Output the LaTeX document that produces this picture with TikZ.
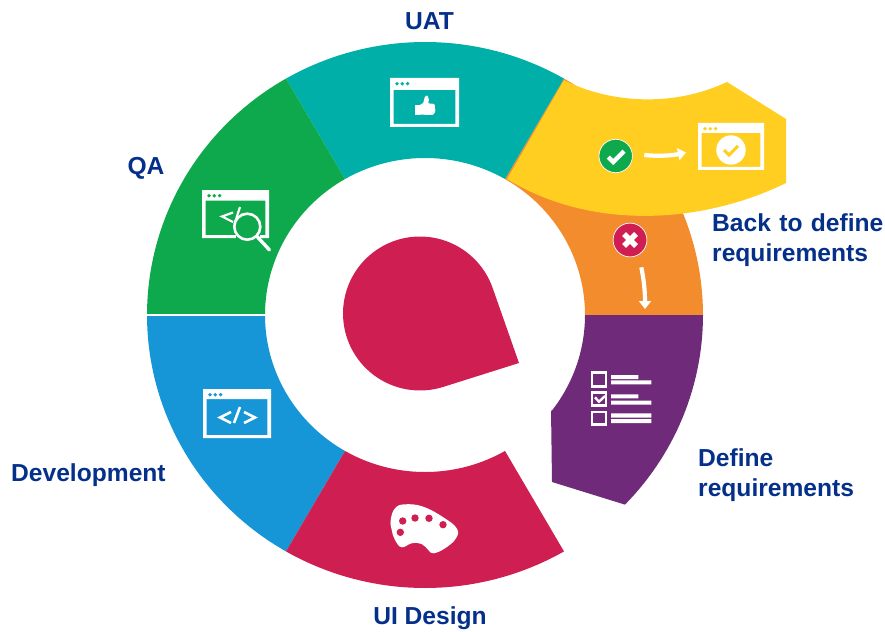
\documentclass[tikz,border=0pt]{standalone}
\usepackage{fontspec}
\setmainfont{Liberation Sans}
\usetikzlibrary{arrows.meta}
\definecolor{cTeal}{RGB}{0,176,168}
\definecolor{cGreen}{RGB}{13,169,76}
\definecolor{cBlue}{RGB}{22,150,214}
\definecolor{cCrimson}{RGB}{207,31,82}
\definecolor{cPurple}{RGB}{111,42,122}
\definecolor{cOrange}{RGB}{242,140,45}
\definecolor{cYellow}{RGB}{255,206,33}
\definecolor{cLabel}{RGB}{5,48,138}
\tikzset{
  label text/.style={text=cLabel,font=\bfseries\fontsize{24.6}{30}\selectfont,inner sep=0pt,align=left},
  code stroke/.style={draw=white,line width=2.6pt,line cap=butt,line join=miter},
  flow arrow/.style={draw=white,line width=4.2pt,-{Triangle[width=12pt,length=8pt]}}
}
% ring sector: colour, start angle, end angle
\newcommand{\ringsector}[3]{%
  \fill[#1] plot[samples=41,domain=#2:#3] ({425+278*cos(\x)},{315+273*sin(\x)})
    -- plot[samples=41,domain=#3:#2] ({425+160*cos(\x)},{315+157*sin(\x)}) -- cycle;}
% browser window: colour, x0,y0,x1,y1 of the outer frame; title bar height
\newcommand{\browserwin}[6]{%
  \fill[white,even odd rule] (#2,#3) rectangle (#4,#5)
     ({#2+3.7},{#3+#6}) rectangle ({#4-3.7},{#5-3});
  \fill[#1] ({#2+7},{#3+5.7}) circle (1.9) ({#2+12.2},{#3+5.7}) circle (1.9) ({#2+17.6},{#3+5.7}) circle (1.9);}
\begin{document}
\begin{tikzpicture}[x=1pt,y=-1pt]
\useasboundingbox (0,0) rectangle (885,631);
% ring
\ringsector{cOrange}{300}{360}
\ringsector{cTeal}{240}{300}
\ringsector{cGreen}{180}{240}
\ringsector{cBlue}{120}{180}
\ringsector{cCrimson}{60}{120}
\fill[white] (146,314.4) rectangle (266,315.6);
% purple
\fill[cPurple] plot[samples=31,domain=0:44] ({425+278*cos(\x)},{315+273*sin(\x)})
   -- (552,482) -- (551,409)
   -- plot[samples=31,domain=38:0] ({425+160*cos(\x)},{315+157*sin(\x)}) -- cycle;
% yellow
\fill[cYellow] (507,179) -- (564,80) .. controls (600,99) and (665,111) .. (727,82)
   -- (786,119) -- (786,183) .. controls (700,225) and (590,230) .. (507,179) -- cycle;
% teardrop
\fill[cCrimson] plot[samples=80,domain=72.5:340.7] ({420+77*cos(\x)},{313.5+77*sin(\x)}) -- (519,363) -- cycle;

% UAT icon
\browserwin{cTeal}{390}{78}{459}{127}{12}
\fill[white] (415,105.2) rectangle (419.6,114.6);
\fill[white,rounded corners=0.8pt] (419.4,105.2) -- (423.3,103) -- (425,96.2) -- (427.6,95.4) -- (429,100) -- (428,103.3)
   -- (434.6,104) -- (435.4,111.7) -- (433,115) -- (419.4,114.6) -- cycle;

% Development icon
\browserwin{cBlue}{203}{389}{271}{438}{10}
\draw[code stroke] (231,412) -- (220,417.5) -- (231,423);
\draw[code stroke] (240,407) -- (234,423);
\draw[code stroke] (244,412) -- (255,417.5) -- (244,423);

% QA icon
\browserwin{cGreen}{202}{190}{269}{238}{10.6}
\fill[cGreen] (236,222) rectangle (260,245);
\draw[white,line width=2.2pt] (233,212.5) -- (222,216.5) -- (233,222);
\draw[white,line width=2.2pt] (240,207) -- (234.5,224);
\draw[white,line width=2.6pt,fill=cGreen] (247.3,226.7) circle (13);
\draw[white,line width=3.4pt,line cap=round] (257,236.5) -- (269.5,250);
\fill[white] (206,235) rectangle (234.5,238);

% Accepted path: green badge, arrow, window
\draw[white,line width=0.7pt,fill=cGreen] (615.7,156) circle (16.7);
\draw[white,line width=4.4pt] (608.3,157) -- (613.3,162) -- (624,151.2);
\coordinate (accS) at (644.3,155);
\coordinate (accE) at (686,152.5);
\draw[flow arrow] (accS) .. controls (658,156.5) and (672,155.5) .. (accE);
\browserwin{cYellow}{698}{123}{764}{170}{10}
\fill[white] (731,150) circle (14.7);
\draw[cYellow,line width=3pt] (724,150) -- (729,155) -- (738,146);

% Rejected path: red badge, arrow
\draw[white,line width=0.7pt,fill=cCrimson] (630,240) circle (16.9);
\draw[white,line width=5.4pt] (624,234) -- (636,246) (636,234) -- (624,246);
\coordinate (rejS) at (641.3,267.3);
\coordinate (rejE) at (645,309);
\draw[flow arrow] (rejS) .. controls (644,280) and (645,292) .. (rejE);

% Checklist icon
\draw[white,line width=2.8pt] (592,372.3) rectangle (606,386.4);
\draw[white,line width=2.8pt] (592,392.3) rectangle (606,405.7);
\draw[white,line width=2.8pt] (592,412) rectangle (606,424.7);
\draw[white,line width=2.4pt] (595,397.3) -- (599,401.7) -- (605,396);
\fill[white] (611,375) rectangle (638.3,379) (611,380.3) rectangle (651.3,384.3)
  (611,394.3) rectangle (638.3,398.3) (611,400.7) rectangle (651.3,404.7)
  (611,413.3) rectangle (651.3,417.7) (611,419) rectangle (651.3,423);

% Palette icon
\fill[white] plot[smooth cycle,tension=0.7] coordinates {(390.7,520) (395,508.3) (405,504.3) (423.3,506.7) (443.3,517.3)
  (456.7,528.3) (456,538.3) (445,548.3) (433.3,553.3) (428.3,550) (421.7,544) (411.7,543.3) (401.7,547.3) (395,540) (391.7,530)};
\fill[cCrimson] (402.7,521) circle (3.7) (415,518) circle (3.7) (429,518.3) circle (3.7) (443,524.7) circle (3.7) (400.3,532.3) circle (3.7);

% Labels
\node[label text,anchor=center] (uat) at (429.5,20.8) {UAT};
\node[label text,anchor=center] (qa) at (146,168.5) {QA};
\node[label text,anchor=west] (back) at (712,240) {Back\hspace{1.5pt} to\hspace{1.5pt} define\\requirements};
\node[label text,anchor=west] (define) at (698,475) {Define\\requirements};
\node[label text,anchor=west] (dev) at (11,475) {Development};
\node[label text,anchor=center] (ui) at (430,618.5) {UI Design};
\end{tikzpicture}
\end{document}
